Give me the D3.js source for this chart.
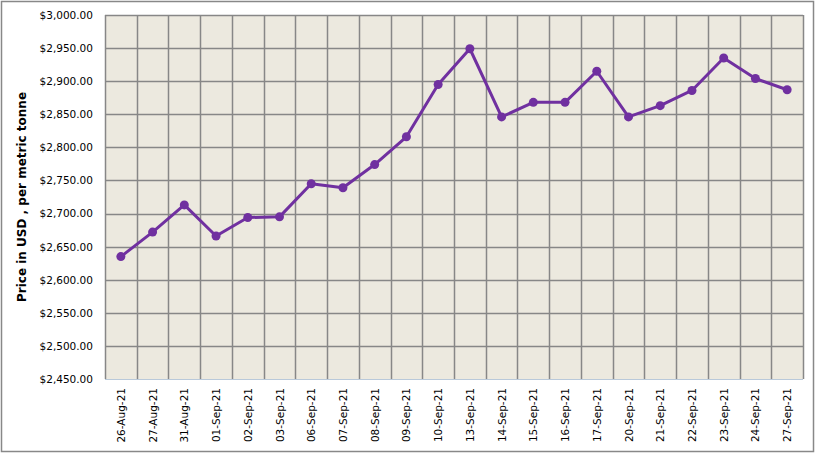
<!DOCTYPE html>
<meta charset="utf-8">
<title>Price chart</title>
<body>
<script src="https://cdn.jsdelivr.net/npm/d3@7"></script>
<style>
html, body {
    margin: 0;
    background: #fff;
}
svg {
    display: block;
    font-family: "DejaVu Sans", Verdana, sans-serif;
}
</style>
<script>
var dates = ["26-Aug-21", "27-Aug-21", "31-Aug-21", "01-Sep-21", "02-Sep-21", "03-Sep-21",
    "06-Sep-21", "07-Sep-21", "08-Sep-21", "09-Sep-21", "10-Sep-21", "13-Sep-21",
    "14-Sep-21", "15-Sep-21", "16-Sep-21", "17-Sep-21", "20-Sep-21", "21-Sep-21",
    "22-Sep-21", "23-Sep-21", "24-Sep-21", "27-Sep-21"];
var prices = [2635, 2672, 2713, 2666, 2694, 2695,
    2745, 2739, 2774, 2816, 2895, 2949,
    2846, 2868, 2868, 2915, 2846, 2863,
    2886, 2935, 2904, 2887];
var yTicks = [2450, 2500, 2550, 2600, 2650, 2700, 2750, 2800, 2850, 2900, 2950, 3000];
var yTitle = "Price in USD , per metric tonne";

var width = 818,
    height = 453,
    margin = {top: 15, right: 15, bottom: 74, left: 105};

var svg = d3.select("body").append("svg")
    .attr("width", width)
    .attr("height", height);

// outer frame
svg.append("rect")
    .attr("x", 1.5).attr("y", 1.5)
    .attr("width", 812).attr("height", 450)
    .attr("fill", "#fff")
    .attr("stroke", "#888")
    .attr("stroke-width", 1.5);

var x = d3.scaleBand()
    .domain(dates)
    .range([margin.left, width - margin.right]);

var y = d3.scaleLinear()
    .domain([2450, 3000])
    .range([height - margin.bottom, margin.top]);

svg.append("rect")
    .attr("x", x.range()[0])
    .attr("y", y(3000))
    .attr("width", x.range()[1] - x.range()[0])
    .attr("height", y(2450) - y(3000))
    .attr("fill", "#ECE9DF");

// horizontal grid
svg.append("g")
    .selectAll("line")
    .data(yTicks.slice(1))
    .enter().append("line")
    .attr("x1", x.range()[0])
    .attr("x2", x.range()[1])
    .attr("y1", function(d) { return Math.round(y(d)) + 0.5; })
    .attr("y2", function(d) { return Math.round(y(d)) + 0.5; })
    .attr("stroke", "#878787")
    .attr("stroke-width", 1.5);

// vertical grid at category boundaries
var bounds = dates.map(function(d) { return x(d); }).concat([x.range()[1]]);
svg.append("g")
    .selectAll("line")
    .data(bounds)
    .enter().append("line")
    .attr("x1", function(d) { return Math.round(d) + 0.5; })
    .attr("x2", function(d) { return Math.round(d) + 0.5; })
    .attr("y1", y(3000))
    .attr("y2", y(2450))
    .attr("stroke", "#878787")
    .attr("stroke-width", 1.5);

// bottom axis line
svg.append("line")
    .attr("x1", x.range()[0])
    .attr("x2", x.range()[1])
    .attr("y1", Math.round(y(2450)) + 0.5)
    .attr("y2", Math.round(y(2450)) + 0.5)
    .attr("stroke", "#B9C9DA")
    .attr("stroke-width", 1);

// y axis labels
var yAxis = d3.axisLeft(y)
    .tickValues(yTicks)
    .tickSize(0)
    .tickPadding(12)
    .tickFormat(function(d) { return "$" + d3.format(",.2f")(d); });

svg.append("g")
    .attr("transform", "translate(" + margin.left + ",0)")
    .call(yAxis)
    .call(function(g) { g.select(".domain").remove(); })
    .selectAll("text")
    .attr("font-size", "10.5px")
    .attr("font-family", "DejaVu Sans, Verdana, sans-serif")
    .attr("fill", "#000");

// x axis labels
var xAxis = d3.axisBottom(x).tickSize(0).tickPadding(0);
svg.append("g")
    .attr("transform", "translate(0," + y(2450) + ")")
    .call(xAxis)
    .call(function(g) { g.select(".domain").remove(); })
    .selectAll("text")
    .attr("font-size", "10.5px")
    .attr("font-family", "DejaVu Sans, Verdana, sans-serif")
    .attr("fill", "#000")
    .attr("text-anchor", "end")
    .attr("dy", null)
    .attr("transform", "translate(4,9) rotate(-90)");

// axis title
svg.append("text")
    .attr("transform", "translate(26," + (y(2450) + y(3000)) / 2 + ") rotate(-90)")
    .attr("text-anchor", "middle")
    .attr("font-size", "12px")
    .attr("font-weight", "bold")
    .text(yTitle);

var line = d3.line()
    .x(function(d, i) { return x(dates[i]) + x.bandwidth() / 2; })
    .y(function(d) { return y(d); });

svg.append("path")
    .datum(prices)
    .attr("fill", "none")
    .attr("stroke", "#7030A0")
    .attr("stroke-width", 3)
    .attr("stroke-linejoin", "round")
    .attr("d", line);

svg.append("g")
    .selectAll("circle")
    .data(prices)
    .enter().append("circle")
    .attr("cx", function(d, i) { return x(dates[i]) + x.bandwidth() / 2; })
    .attr("cy", function(d) { return y(d); })
    .attr("r", 4.5)
    .attr("fill", "#7030A0");
</script>
